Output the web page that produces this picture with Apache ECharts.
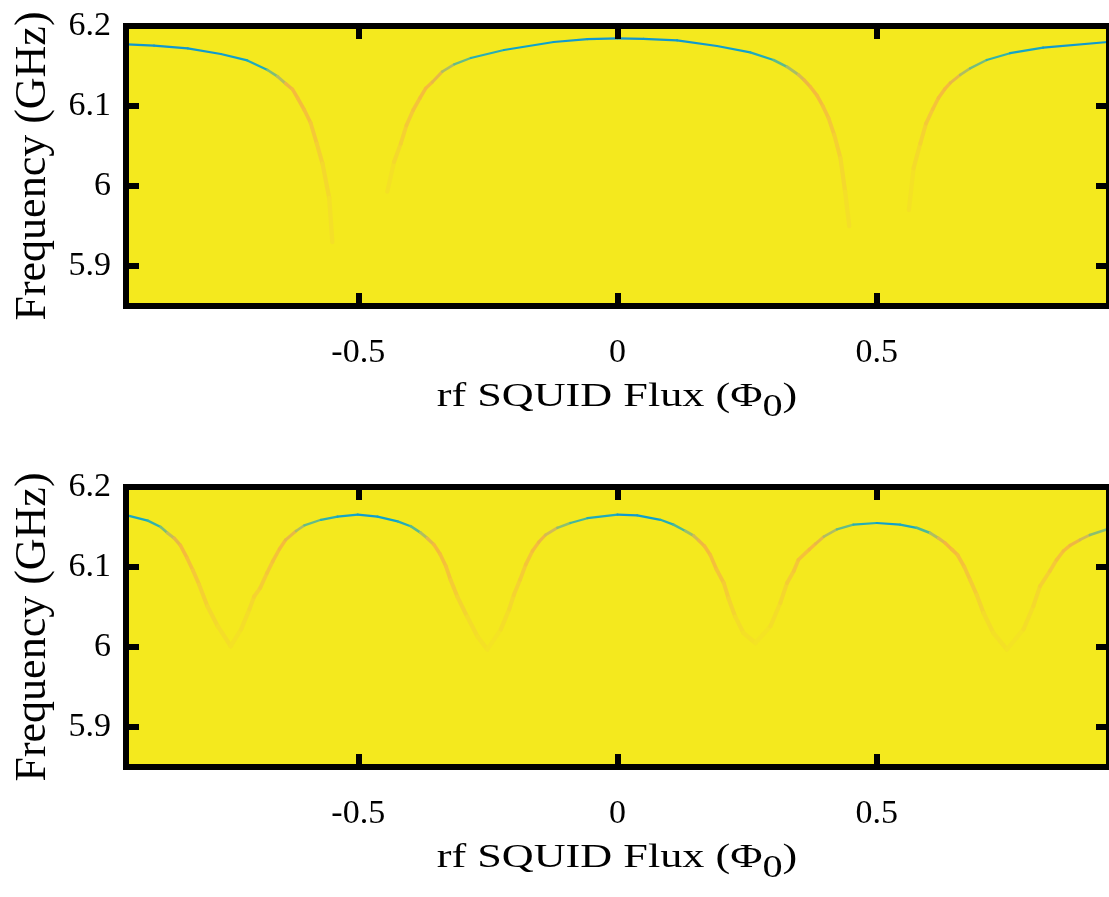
<!DOCTYPE html>
<html>
<head>
<meta charset="utf-8">
<title>rf SQUID flux dependence</title>
<script src="https://cdn.jsdelivr.net/npm/echarts@6/dist/echarts.min.js"></script>
<style>
  html, body { margin: 0; padding: 0; background: #ffffff; }
  #chart { width: 1109px; height: 897px; }
</style>
</head>
<body>
<div id="chart"></div>
<script>
// Axis extents and tick labels
const fluxRange = [-0.948, 0.948];        // rf SQUID flux (Φ0)
const freqRange = [5.85, 6.2];            // frequency (GHz)
const fluxTicks = [-0.5, 0, 0.5];
const freqTicks = [5.9, 6.0, 6.1, 6.2];

// Resonance branches: [flux (Φ0), resonance frequency (GHz), normalized |S21| at the dip]
// Upper panel
const upperBranchA = [
  [-0.946, 6.177, 0.26], [-0.894, 6.1754, 0.26], [-0.829, 6.172, 0.27], [-0.765, 6.165, 0.29],
  [-0.714, 6.157, 0.34], [-0.675, 6.145, 0.48], [-0.656, 6.137, 0.56], [-0.640, 6.128, 0.68],
  [-0.627, 6.121, 0.72], [-0.617, 6.110, 0.74], [-0.604, 6.095, 0.76], [-0.592, 6.079, 0.80],
  [-0.580, 6.053, 0.84], [-0.569, 6.028, 0.88], [-0.556, 5.985, 0.92], [-0.550, 5.930, 0.95]
];
const upperBranchB = [
  [-0.444, 5.993, 0.93], [-0.431, 6.030, 0.88], [-0.418, 6.053, 0.84], [-0.407, 6.076, 0.80],
  [-0.394, 6.095, 0.77], [-0.381, 6.110, 0.74], [-0.370, 6.122, 0.72], [-0.357, 6.130, 0.66],
  [-0.338, 6.143, 0.55], [-0.315, 6.152, 0.45], [-0.283, 6.160, 0.36], [-0.219, 6.170, 0.30],
  [-0.123, 6.180, 0.27], [-0.058, 6.1835, 0.26], [0.000, 6.1846, 0.25], [0.050, 6.1838, 0.26],
  [0.115, 6.182, 0.27], [0.192, 6.175, 0.29], [0.256, 6.167, 0.34], [0.301, 6.1575, 0.44],
  [0.327, 6.149, 0.54], [0.349, 6.139, 0.62], [0.360, 6.1325, 0.68], [0.372, 6.124, 0.72],
  [0.385, 6.113, 0.74], [0.396, 6.100, 0.77], [0.407, 6.085, 0.80], [0.418, 6.064, 0.84],
  [0.430, 6.035, 0.88], [0.439, 5.993, 0.92], [0.447, 5.950, 0.95]
];
const upperBranchC = [
  [0.562, 5.970, 0.94], [0.571, 6.022, 0.89], [0.584, 6.053, 0.85], [0.595, 6.078, 0.80],
  [0.608, 6.096, 0.77], [0.619, 6.110, 0.74], [0.631, 6.121, 0.72], [0.642, 6.129, 0.66],
  [0.661, 6.139, 0.55], [0.680, 6.147, 0.47], [0.712, 6.1575, 0.38], [0.757, 6.166, 0.31],
  [0.821, 6.173, 0.27], [0.946, 6.180, 0.25]
];

// Lower panel
const lowerBranch = [
  [-0.946, 6.1646, 0.32], [-0.906, 6.158, 0.38], [-0.881, 6.150, 0.48], [-0.868, 6.1425, 0.58],
  [-0.855, 6.136, 0.66], [-0.843, 6.127, 0.72], [-0.830, 6.111, 0.76], [-0.819, 6.096, 0.80],
  [-0.807, 6.078, 0.84], [-0.791, 6.051, 0.88], [-0.771, 6.026, 0.91], [-0.746, 6.001, 0.94],
  [-0.726, 6.022, 0.91], [-0.710, 6.047, 0.88], [-0.701, 6.063, 0.85], [-0.689, 6.074, 0.82],
  [-0.676, 6.0925, 0.79], [-0.665, 6.107, 0.76], [-0.652, 6.1225, 0.73], [-0.640, 6.134, 0.66],
  [-0.620, 6.145, 0.55], [-0.604, 6.152, 0.45], [-0.572, 6.159, 0.36], [-0.540, 6.163, 0.31],
  [-0.501, 6.1654, 0.28], [-0.463, 6.163, 0.30], [-0.424, 6.157, 0.35], [-0.399, 6.151, 0.44],
  [-0.380, 6.143, 0.55], [-0.367, 6.136, 0.65], [-0.354, 6.128, 0.72], [-0.342, 6.116, 0.75],
  [-0.331, 6.101, 0.78], [-0.322, 6.084, 0.82], [-0.309, 6.063, 0.86], [-0.290, 6.038, 0.90],
  [-0.270, 6.013, 0.93], [-0.251, 5.997, 0.95], [-0.225, 6.022, 0.91], [-0.209, 6.047, 0.88],
  [-0.200, 6.065, 0.85], [-0.188, 6.084, 0.82], [-0.177, 6.103, 0.78], [-0.164, 6.120, 0.74],
  [-0.152, 6.131, 0.68], [-0.139, 6.140, 0.60], [-0.116, 6.149, 0.50], [-0.091, 6.155, 0.41],
  [-0.058, 6.161, 0.34], [0.000, 6.1654, 0.27], [0.038, 6.1646, 0.29], [0.083, 6.159, 0.35],
  [0.108, 6.153, 0.42], [0.131, 6.145, 0.52], [0.147, 6.139, 0.60], [0.157, 6.133, 0.68],
  [0.168, 6.126, 0.72], [0.179, 6.115, 0.75], [0.191, 6.097, 0.78], [0.205, 6.080, 0.82],
  [0.214, 6.061, 0.86], [0.227, 6.038, 0.90], [0.243, 6.0175, 0.93], [0.266, 6.005, 0.95],
  [0.295, 6.026, 0.91], [0.314, 6.055, 0.87], [0.327, 6.080, 0.82], [0.340, 6.095, 0.79],
  [0.349, 6.109, 0.76], [0.370, 6.122, 0.72], [0.382, 6.129, 0.66], [0.398, 6.138, 0.55],
  [0.423, 6.147, 0.45], [0.455, 6.153, 0.35], [0.500, 6.155, 0.29], [0.545, 6.153, 0.33],
  [0.577, 6.149, 0.42], [0.603, 6.1425, 0.55], [0.619, 6.136, 0.64], [0.632, 6.130, 0.70],
  [0.645, 6.122, 0.73], [0.656, 6.115, 0.76], [0.669, 6.100, 0.79], [0.680, 6.084, 0.82],
  [0.693, 6.065, 0.86], [0.706, 6.0425, 0.90], [0.725, 6.0175, 0.93], [0.751, 5.997, 0.95],
  [0.783, 6.022, 0.91], [0.802, 6.051, 0.88], [0.815, 6.076, 0.84], [0.834, 6.095, 0.80],
  [0.847, 6.109, 0.76], [0.860, 6.120, 0.73], [0.873, 6.127, 0.68], [0.892, 6.134, 0.60],
  [0.911, 6.140, 0.50], [0.946, 6.1475, 0.40]
];

// Parula-like colour scale for |S21|, running up to the off-resonance level
const parula = ['#352a87', '#0363e1', '#1485d4', '#0fa3cc', '#3cb6a2', '#8cbf70',
                '#d2bb55', '#f5b63e', '#f5c838', '#f4dc2a', '#f4e91e'];
const offResonance = '#f4e91e';

const FONT = "'Liberation Serif', 'Times New Roman', serif";
const grids = [
  { left: 126, top: 26, width: 984, height: 280 },
  { left: 126, top: 487, width: 984, height: 280 }
];

// One stroke per pair of neighbouring measured points, coloured by the dip depth
function makeRenderer(len) {
  return function (params, api) {
    const i = params.dataIndexInside;
    if (i + 1 >= len) return null;
    const p0 = api.coord([api.value(0, i), api.value(1, i)]);
    const p1 = api.coord([api.value(0, i + 1), api.value(1, i + 1)]);
    const d = (api.value(2, i) + api.value(2, i + 1)) / 2;
    return {
      type: 'line',
      shape: { x1: p0[0], y1: p0[1], x2: p1[0], y2: p1[1] },
      style: { stroke: api.visual('color'), lineWidth: 2.2 + 4 * Math.max(0, d - 0.4), lineCap: 'round' }
    };
  };
}

function branchSeries(data, panel) {
  return {
    type: 'custom',
    xAxisIndex: panel * 2,
    yAxisIndex: panel * 2,
    clip: true,
    z: 2,
    renderItem: makeRenderer(data.length),
    data: data
  };
}

function xAxes(panel) {
  const common = {
    gridIndex: panel, type: 'value', min: fluxRange[0], max: fluxRange[1], z: 5,
    splitLine: { show: false },
    axisLine: { show: true, onZero: false, lineStyle: { color: '#000', width: 6, cap: 'square' } },
    axisTick: { show: true, inside: true, length: 13, customValues: fluxTicks,
                lineStyle: { color: '#000', width: 6 } }
  };
  return [
    Object.assign({}, common, {
      position: 'bottom',
      axisLabel: { show: true, customValues: fluxTicks, margin: 30, color: '#000',
                   fontFamily: FONT, fontSize: 34 }
    }),
    Object.assign({}, common, { position: 'top', axisLabel: { show: false } })
  ];
}

function yAxes(panel) {
  const common = {
    gridIndex: panel, type: 'value', min: freqRange[0], max: freqRange[1], z: 5,
    splitLine: { show: false },
    axisLine: { show: true, onZero: false, lineStyle: { color: '#000', width: 6, cap: 'square' } },
    axisTick: { show: true, inside: true, length: 13, customValues: freqTicks,
                lineStyle: { color: '#000', width: 6 } }
  };
  return [
    Object.assign({}, common, {
      position: 'left',
      name: 'Frequency (GHz)', nameLocation: 'middle', nameRotate: 90, nameGap: 71,
      nameTextStyle: { fontFamily: FONT, fontSize: 44, color: '#000' },
      axisLabel: { show: true, customValues: freqTicks, margin: 15, color: '#000',
                   fontFamily: FONT, fontSize: 34,
                   formatter: v => String(Math.round(v * 10) / 10) }
    }),
    Object.assign({}, common, { position: 'right', axisLabel: { show: false } })
  ];
}

// x-axis title with the flux-quantum subscript
function fluxTitle(g) {
  return {
    type: 'text',
    x: g.left + g.width / 2 - 1,
    y: g.top + g.height + 71,
    scaleX: 1.3,
    z: 10,
    style: {
      text: '{a|rf SQUID Flux (Φ}{s|0}{a|)}',
      align: 'center',
      verticalAlign: 'top',
      fill: '#000',
      rich: {
        a: { fontFamily: FONT, fontSize: 34, lineHeight: 40, fill: '#000' },
        s: { fontFamily: FONT, fontSize: 31, lineHeight: 30, padding: [22, 0, 0, 0], fill: '#000' }
      }
    }
  };
}

const chart = echarts.init(document.getElementById('chart'), null, { renderer: 'canvas' });
chart.setOption({
  backgroundColor: '#ffffff',
  animation: false,
  grid: grids.map(g => Object.assign({ show: true, backgroundColor: offResonance, borderWidth: 0 }, g)),
  xAxis: xAxes(0).concat(xAxes(1)),
  yAxis: yAxes(0).concat(yAxes(1)),
  visualMap: {
    type: 'continuous', show: false, dimension: 2, min: 0, max: 1,
    seriesIndex: [0, 1, 2, 3],
    inRange: { color: parula }
  },
  graphic: grids.map(fluxTitle),
  series: [
    branchSeries(upperBranchA, 0),
    branchSeries(upperBranchB, 0),
    branchSeries(upperBranchC, 0),
    branchSeries(lowerBranch, 1)
  ]
});
</script>
</body>
</html>
